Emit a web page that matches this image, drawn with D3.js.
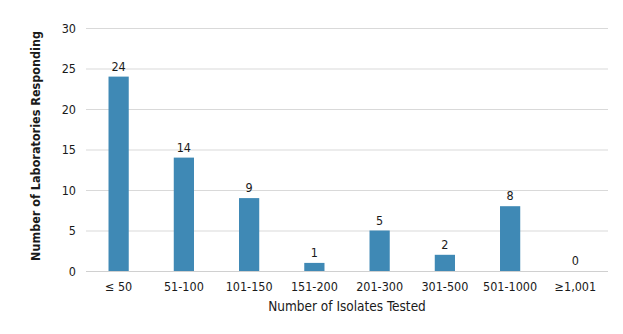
<!DOCTYPE html>
<html><head><meta charset="utf-8">
<script src="https://cdn.jsdelivr.net/npm/d3@7"></script>
<style>body{margin:0;background:#fff}text{font-family:"DejaVu Sans Condensed","DejaVu Sans",sans-serif;fill:#1a1a1a}</style>
</head><body><svg id="c" width="623" height="334"></svg>
<script>
const categories = ["\u2264 50","51-100","101-150","151-200","201-300","301-500","501-1000","\u22651,001"];
const values = [24,14,9,1,5,2,8,0];
const yTicks = [0,5,10,15,20,25,30];

const svg = d3.select("#c");
const L=86,R=608,T=28,B=271;
const x = d3.scaleBand().domain(categories).range([L,R]).paddingInner(0.69).paddingOuter(0.345);
const y = d3.scaleLinear().domain([0,30]).range([B,T]);

svg.append("g").selectAll("line").data(yTicks).join("line")
  .attr("x1",L).attr("x2",R).attr("y1",d=>y(d)+0.5).attr("y2",d=>y(d)+0.5)
  .attr("stroke",d=>d===0?"#d0d0d0":"#d9d9d9").attr("stroke-width",1);

svg.append("g").selectAll("text").data(yTicks).join("text")
  .attr("x",76).attr("y",d=>y(d)+4.5).attr("text-anchor","end").attr("font-size",12.5).text(d=>d);

svg.append("g").selectAll("rect").data(values).join("rect")
  .attr("x",(d,i)=>x(categories[i])).attr("width",x.bandwidth())
  .attr("y",d=>y(d)).attr("height",d=>B-y(d)).attr("fill","#3f89b5");

svg.append("g").selectAll("text").data(values).join("text")
  .attr("x",(d,i)=>x(categories[i])+x.bandwidth()/2).attr("y",d=>y(d)-6)
  .attr("text-anchor","middle").attr("font-size",12.5).text(d=>d);

svg.append("g").selectAll("text").data(categories).join("text")
  .attr("x",d=>x(d)+x.bandwidth()/2).attr("y",291)
  .attr("text-anchor","middle").attr("font-size",12.5).text(d=>d);

svg.append("text").attr("x",347).attr("y",311).attr("text-anchor","middle")
  .attr("font-size",13.5).text("Number of Isolates Tested");
svg.append("text").attr("transform","translate(40,146) rotate(-90)").attr("text-anchor","middle")
  .attr("font-size",12.5).attr("font-weight","bold").text("Number of Laboratories Responding");
</script></body></html>
